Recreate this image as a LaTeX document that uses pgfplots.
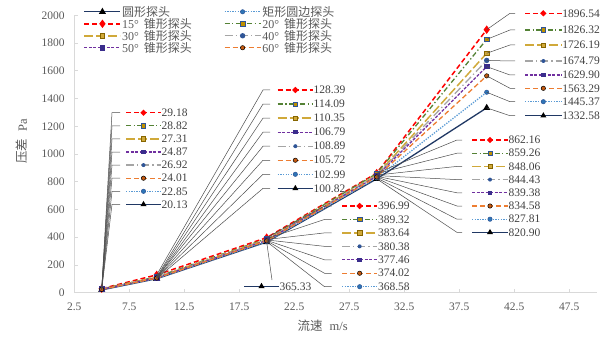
\documentclass[border=0pt]{standalone}
\usepackage{fontspec}
\setmainfont{Liberation Serif}
\newfontfamily\cjk{Noto Sans CJK SC}
\usepackage{pgfplots}
\pgfplotsset{compat=1.18}
\usetikzlibrary{shapes.geometric}

\definecolor{cNavy}{HTML}{203864}
\definecolor{cLBlue}{HTML}{5B9BD5}
\definecolor{cMBlue}{HTML}{2E75B6}
\definecolor{cRed}{HTML}{FF0000}
\definecolor{cGreen}{HTML}{548235}
\definecolor{cGoldM}{HTML}{BF9000}
\definecolor{cGold}{HTML}{D0A93A}
\definecolor{cGray}{HTML}{A5A5A5}
\definecolor{cDBlue}{HTML}{2F5597}
\definecolor{cPurple}{HTML}{7030A0}
\definecolor{cPurpleM}{HTML}{3A2D8C}
\definecolor{cOrange}{HTML}{ED7D31}
\definecolor{cOrangeM}{HTML}{C55A11}
\definecolor{cText}{HTML}{595959}
\definecolor{cLab}{HTML}{404040}
\definecolor{cAxis}{HTML}{D9D9D9}

\tikzset{
 s1/.style={cNavy, line width=1.3pt, solid},
 s2/.style={cLBlue, line width=1.3pt, dash pattern=on 1.3pt off 1.3pt},
 s3/.style={cRed, line width=1.5pt, dash pattern=on 5pt off 3pt},
 s4/.style={cGreen, line width=1.3pt, dash pattern=on 5pt off 2.5pt on 1.3pt off 2.5pt},
 s5/.style={cGold, line width=1.5pt, dash pattern=on 9pt off 3pt},
 s6/.style={cGray, line width=1.3pt, dash pattern=on 8pt off 3pt on 1.3pt off 3pt},
 s7/.style={cPurple, line width=1.3pt, dash pattern=on 3pt off 1.5pt},
 s8/.style={cOrange, line width=1.3pt, dash pattern=on 5pt off 3pt},
 m1/.style={mark=triangle*, mark size=2.8pt, mark options={solid, fill=black, draw=black}},
 m2/.style={mark=*, mark size=2.2pt, mark options={solid, fill=cMBlue, draw=cDBlue, line width=0.5pt}},
 m3/.style={mark=diamond*, mark size=3pt, mark options={solid, fill=cRed, draw=cRed}},
 m4/.style={mark=square*, mark size=2.2pt, mark options={solid, fill=cGoldM, draw=cDBlue, line width=0.6pt}},
 m5/.style={mark=square*, mark size=2.2pt, mark options={solid, fill=cGold, draw=cGoldM!70!black, line width=0.5pt}},
 m6/.style={mark=*, mark size=2pt, mark options={solid, fill=cDBlue, draw=cDBlue}},
 m7/.style={mark=square*, mark size=2.2pt, mark options={solid, fill=cPurpleM, draw=cPurpleM}},
 m8/.style={mark=*, mark size=2.2pt, mark options={solid, fill=cOrangeM, draw=black, line width=0.5pt}},
 k1/.style={regular polygon, regular polygon sides=3, fill=black, inner sep=0pt, minimum size=7pt},
 k2/.style={circle, fill=cMBlue, draw=cDBlue, line width=0.5pt, inner sep=0pt, minimum size=4.4pt},
 k3/.style={diamond, fill=cRed, inner sep=0pt, minimum size=6.5pt},
 k4/.style={rectangle, fill=cGoldM, draw=cDBlue, line width=0.6pt, inner sep=0pt, minimum size=4.4pt},
 k5/.style={rectangle, fill=cGold, draw=cGoldM!70!black, line width=0.5pt, inner sep=0pt, minimum size=4.4pt},
 k6/.style={circle, fill=cDBlue, inner sep=0pt, minimum size=4pt},
 k7/.style={rectangle, fill=cPurpleM, inner sep=0pt, minimum size=4.4pt},
 k8/.style={circle, fill=cOrangeM, draw=black, line width=0.5pt, inner sep=0pt, minimum size=4.4pt},
 lead/.style={draw=black!70, line width=0.5pt, solid},
 lbl/.style={text=cLab, font=\fontsize{11.5}{12}\selectfont, inner sep=0.5pt, anchor=west},
}

% #1 series, #2 coordinate, #3 hx1, #4 hx2, #5 kx1, #6 kx2, #7 py, #8 text
\newcommand{\lab}[8]{%
 \draw[lead] (#2) -- (#3,338-#7) -- (#4,338-#7);
 \draw[s#1] (#5,338-#7) -- (#6,338-#7);
 \node[k#1] at ({(#5+#6)/2},338-#7) {};
 \node[lbl] at (#6,338-#7) {#8};
}

\begin{document}
\begin{tikzpicture}[x=1pt,y=1pt]
\path[use as bounding box] (0,0) rectangle (613,338);
\begin{axis}[
 scale only axis,
 width=522.5pt, height=277.4pt,
 at={(74.2pt,45.3pt)}, anchor=south west,
 xmin=2.5, xmax=50, ymin=0, ymax=2000,
 xtick={2.5,7.5,...,47.5}, ytick={0,200,...,2000},
 axis lines=left,
 axis line style={-, draw=cAxis, line width=0.8pt},
 tick align=inside, major tick length=4pt,
 tick style={draw=cAxis, line width=0.8pt},
 /pgf/number format/assume math mode=true,
 tick label style={font=\fontsize{11.5}{12}\selectfont, text=cText},
 xticklabel style={yshift=-7pt, /pgf/number format/.cd, fixed, fixed zerofill, precision=1},
 yticklabel style={xshift=-6pt, /pgf/number format/.cd, fixed, set thousands separator={}},
 clip=false,
 legend columns=2,
 legend cell align=left,
 legend style={at={(0.012,1.045)}, anchor=north west, draw=none, fill=none,
   font=\fontsize{12}{12}\selectfont, text=cText, row sep=-1.6pt,
   nodes={inner sep=1pt},
   /tikz/every even column/.append style={column sep=31pt}},
 legend image code/.code={\draw[mark repeat=2,mark phase=2] plot coordinates {(0pt,0pt) (18pt,0pt) (36pt,0pt)};},
]
\addplot[s1,m1] coordinates {(5,20.13) (10,100.82) (20,365.33) (30,820.90) (40,1332.58)};
\addlegendentry{{\cjk 圆形探头}}
\addplot[s2,m2] coordinates {(5,22.85) (10,102.99) (20,368.58) (30,827.81) (40,1445.37)};
\addlegendentry{{\cjk 矩形圆边探头}}
\addplot[s3,m3] coordinates {(5,29.18) (10,128.39) (20,396.99) (30,862.16) (40,1896.54)};
\addlegendentry{15°\hspace{5pt}{\cjk 锥形探头}}
\addplot[s4,m4] coordinates {(5,28.82) (10,114.09) (20,389.32) (30,859.26) (40,1826.32)};
\addlegendentry{20°\hspace{5pt}{\cjk 锥形探头}}
\addplot[s5,m5] coordinates {(5,27.31) (10,110.35) (20,383.64) (30,848.06) (40,1726.19)};
\addlegendentry{30°\hspace{5pt}{\cjk 锥形探头}}
\addplot[s6,m6] coordinates {(5,26.92) (10,108.89) (20,380.38) (30,844.43) (40,1674.79)};
\addlegendentry{40°\hspace{5pt}{\cjk 锥形探头}}
\addplot[s7,m7] coordinates {(5,24.87) (10,106.79) (20,377.46) (30,839.38) (40,1629.90)};
\addlegendentry{50°\hspace{5pt}{\cjk 锥形探头}}
\addplot[s8,m8] coordinates {(5,24.01) (10,105.72) (20,374.02) (30,834.58) (40,1563.29)};
\addlegendentry{60°\hspace{5pt}{\cjk 锥形探头}}

\coordinate (c1a) at (axis cs:5,20.13);
\coordinate (c2a) at (axis cs:5,22.85);
\coordinate (c3a) at (axis cs:5,29.18);
\coordinate (c4a) at (axis cs:5,28.82);
\coordinate (c5a) at (axis cs:5,27.31);
\coordinate (c6a) at (axis cs:5,26.92);
\coordinate (c7a) at (axis cs:5,24.87);
\coordinate (c8a) at (axis cs:5,24.01);
\coordinate (c1b) at (axis cs:10,100.82);
\coordinate (c2b) at (axis cs:10,102.99);
\coordinate (c3b) at (axis cs:10,128.39);
\coordinate (c4b) at (axis cs:10,114.09);
\coordinate (c5b) at (axis cs:10,110.35);
\coordinate (c6b) at (axis cs:10,108.89);
\coordinate (c7b) at (axis cs:10,106.79);
\coordinate (c8b) at (axis cs:10,105.72);
\coordinate (c1c) at (axis cs:20,365.33);
\coordinate (c2c) at (axis cs:20,368.58);
\coordinate (c3c) at (axis cs:20,396.99);
\coordinate (c4c) at (axis cs:20,389.32);
\coordinate (c5c) at (axis cs:20,383.64);
\coordinate (c6c) at (axis cs:20,380.38);
\coordinate (c7c) at (axis cs:20,377.46);
\coordinate (c8c) at (axis cs:20,374.02);
\coordinate (c1d) at (axis cs:30,820.90);
\coordinate (c2d) at (axis cs:30,827.81);
\coordinate (c3d) at (axis cs:30,862.16);
\coordinate (c4d) at (axis cs:30,859.26);
\coordinate (c5d) at (axis cs:30,848.06);
\coordinate (c6d) at (axis cs:30,844.43);
\coordinate (c7d) at (axis cs:30,839.38);
\coordinate (c8d) at (axis cs:30,834.58);
\coordinate (c1e) at (axis cs:40,1332.58);
\coordinate (c2e) at (axis cs:40,1445.37);
\coordinate (c3e) at (axis cs:40,1896.54);
\coordinate (c4e) at (axis cs:40,1826.32);
\coordinate (c5e) at (axis cs:40,1726.19);
\coordinate (c6e) at (axis cs:40,1674.79);
\coordinate (c7e) at (axis cs:40,1629.90);
\coordinate (c8e) at (axis cs:40,1563.29);
\end{axis}

% axis titles
\node[rotate=90, text=cText, font=\fontsize{12.5}{13}\selectfont] at (22,196.5) {{\cjk 压差}\hspace{7pt}Pa};
\node[text=cText, font=\fontsize{12.5}{13}\selectfont] at (322.7,12) {{\cjk 流速}\hspace{7pt}m/s};

% group at 5 m/s
\lab{3}{c3a}{112}{120}{126}{161}{112.7}{29.18}
\lab{4}{c4a}{112}{120}{126}{161}{125.8}{28.82}
\lab{5}{c5a}{112}{120}{126}{161}{138.9}{27.31}
\lab{7}{c7a}{112}{120}{126}{161}{152.0}{24.87}
\lab{6}{c6a}{112}{120}{126}{161}{165.1}{26.92}
\lab{8}{c8a}{112}{120}{126}{161}{178.2}{24.01}
\lab{2}{c2a}{112}{120}{126}{161}{191.3}{22.85}
\lab{1}{c1a}{112}{120}{126}{161}{204.4}{20.13}
% group at 10 m/s
\lab{3}{c3b}{263}{270}{277.7}{313}{90}{128.39}
\lab{4}{c4b}{263}{270}{277.7}{313}{104.05}{114.09}
\lab{5}{c5b}{263}{270}{277.7}{313}{118.1}{110.35}
\lab{7}{c7b}{263}{270}{277.7}{313}{132.15}{106.79}
\lab{6}{c6b}{263}{270}{277.7}{313}{146.2}{108.89}
\lab{8}{c8b}{263}{270}{277.7}{313}{160.25}{105.72}
\lab{2}{c2b}{263}{270}{277.7}{313}{174.3}{102.99}
\lab{1}{c1b}{263}{270}{277.7}{313}{188.35}{100.82}
% group at 20 m/s
\lab{3}{c3c}{324.5}{331.5}{342}{377.3}{206}{396.99}
\lab{4}{c4c}{324.5}{331.5}{342}{377.3}{219.45}{389.32}
\lab{5}{c5c}{324.5}{331.5}{342}{377.3}{232.9}{383.64}
\lab{6}{c6c}{324.5}{331.5}{342}{377.3}{246.35}{380.38}
\lab{7}{c7c}{324.5}{331.5}{342}{377.3}{259.8}{377.46}
\lab{8}{c8c}{324.5}{331.5}{342}{377.3}{273.25}{374.02}
\lab{2}{c2c}{324.5}{331.5}{342}{377.3}{286.7}{368.58}
\draw[lead] (c1c) -- (272,338-280);
\draw[s1] (244,338-286.3) -- (279,338-286.3);
\node[k1] at (261.5,338-286.3) {};
\node[lbl] at (279,338-286.3) {365.33};
% group at 30 m/s
\lab{3}{c3d}{457}{462}{472}{508}{140}{862.16}
\lab{4}{c4d}{457}{462}{472}{508}{153.2}{859.26}
\lab{5}{c5d}{457}{462}{472}{508}{166.4}{848.06}
\lab{6}{c6d}{457}{462}{472}{508}{179.6}{844.43}
\lab{7}{c7d}{457}{462}{472}{508}{192.8}{839.38}
\lab{8}{c8d}{457}{462}{472}{508}{206}{834.58}
\lab{2}{c2d}{457}{462}{472}{508}{219.2}{827.81}
\lab{1}{c1d}{457}{462}{472}{508}{232.4}{820.90}
% group at 40 m/s
\lab{3}{c3e}{510}{515}{525}{561.7}{13.3}{1896.54}
\lab{4}{c4e}{510}{515}{525}{561.7}{30}{1826.32}
\lab{5}{c5e}{510}{515}{525}{561.7}{45}{1726.19}
\lab{6}{c6e}{510}{515}{525}{561.7}{61}{1674.79}
\lab{7}{c7e}{510}{515}{525}{561.7}{75}{1629.90}
\lab{8}{c8e}{510}{515}{525}{561.7}{88.3}{1563.29}
\lab{2}{c2e}{510}{515}{525}{561.7}{101.7}{1445.37}
\lab{1}{c1e}{510}{515}{525}{561.7}{115.7}{1332.58}
\end{tikzpicture}
\end{document}
